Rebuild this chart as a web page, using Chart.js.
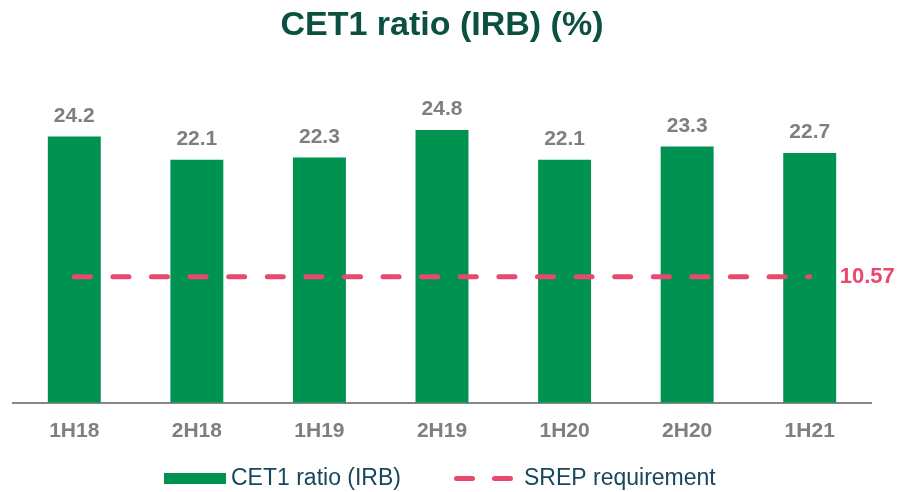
<!DOCTYPE html>
<html><head><meta charset="utf-8">
<script src="https://cdn.jsdelivr.net/npm/chart.js@4"></script>
<style>html,body{margin:0;padding:0;background:#fff;}#wrap{width:902px;height:492px;}</style>
</head><body><div id="wrap"><canvas id="c" width="902" height="492"></canvas></div>
<script>
const categories = ['1H18', '2H18', '1H19', '2H19', '1H20', '2H20', '1H21'];
const cet1Ratio = [24.2, 22.1, 22.3, 24.8, 22.1, 23.3, 22.7];
const srepRequirement = [10.57, 10.57, 10.57, 10.57, 10.57, 10.57, 10.57];
const seriesNames = ['CET1 ratio (IRB)', 'SREP requirement'];
const titleText = 'CET1 ratio (IRB) (%)';

const FONT = '"Liberation Sans", Arial, Helvetica, sans-serif';
const GREEN = '#009250';
const PINK = '#E8496D';
const GREY = '#7F7F7F';

const labelPlugin = {
  id: 'labels',
  afterDatasetsDraw(chart) {
    const ctx = chart.ctx;
    ctx.save();
    const bars = chart.getDatasetMeta(0).data;
    ctx.font = 'bold 21px ' + FONT;
    ctx.fillStyle = GREY;
    ctx.textAlign = 'center';
    ctx.textBaseline = 'alphabetic';
    bars.forEach((b, i) => {
      ctx.fillText(cet1Ratio[i].toFixed(1), b.x, b.y - 15);
    });
    const pts = chart.getDatasetMeta(1).data;
    const last = pts[pts.length - 1];
    ctx.font = 'bold 22px ' + FONT;
    ctx.fillStyle = PINK;
    ctx.textAlign = 'left';
    ctx.fillText(srepRequirement[srepRequirement.length - 1].toFixed(2), last.x + 30, last.y + 6);
    ctx.restore();
  },
  afterDraw(chart) {
    const ctx = chart.ctx;
    ctx.save();
    const cy = 478.5;
    ctx.fillStyle = GREEN;
    ctx.fillRect(164, cy - 5.5, 62, 11);
    ctx.font = '23px ' + FONT;
    ctx.fillStyle = '#17475C';
    ctx.textAlign = 'left';
    ctx.textBaseline = 'middle';
    ctx.fillText(seriesNames[0], 231, cy);
    ctx.strokeStyle = PINK;
    ctx.lineWidth = 5;
    ctx.lineCap = 'round';
    ctx.setLineDash([16, 22]);
    ctx.beginPath();
    ctx.moveTo(456.5, cy);
    ctx.lineTo(510.5, cy);
    ctx.stroke();
    ctx.setLineDash([]);
    ctx.fillText(seriesNames[1], 524, cy);
    ctx.restore();
  }
};

new Chart(document.getElementById('c'), {
  data: {
    labels: categories,
    datasets: [
      {
        type: 'bar',
        label: seriesNames[0],
        data: cet1Ratio,
        backgroundColor: GREEN,
        borderWidth: 0,
        categoryPercentage: 1,
        barPercentage: 0.432,
        yAxisID: 'y',
        order: 1
      },
      {
        type: 'line',
        label: seriesNames[1],
        data: srepRequirement,
        borderColor: PINK,
        borderWidth: 5,
        borderDash: [16, 22.6],
        borderCapStyle: 'round',
        pointRadius: 0,
        fill: false,
        yAxisID: 'y2',
        order: 0
      }
    ]
  },
  options: {
    responsive: false,
    animation: false,
    events: [],
    layout: { padding: { left: 13, right: 31, top: 0, bottom: 32 } },
    plugins: {
      legend: { display: false },
      tooltip: { enabled: false },
      title: {
        display: true,
        text: titleText,
        color: '#0B5041',
        font: { family: FONT, size: 34, weight: 'bold' },
        padding: { top: 5, bottom: 27 }
      }
    },
    scales: {
      x: {
        grid: { display: false, drawTicks: false },
        border: { display: true, color: '#878787', width: 2 },
        ticks: { color: GREY, font: { family: FONT, size: 21, weight: 'bold' }, padding: 16 }
      },
      y: { display: false, min: 0, max: 30 },
      y2: { display: false, min: 0, max: 27.68 }
    }
  },
  plugins: [labelPlugin]
});
</script>
</body></html>
